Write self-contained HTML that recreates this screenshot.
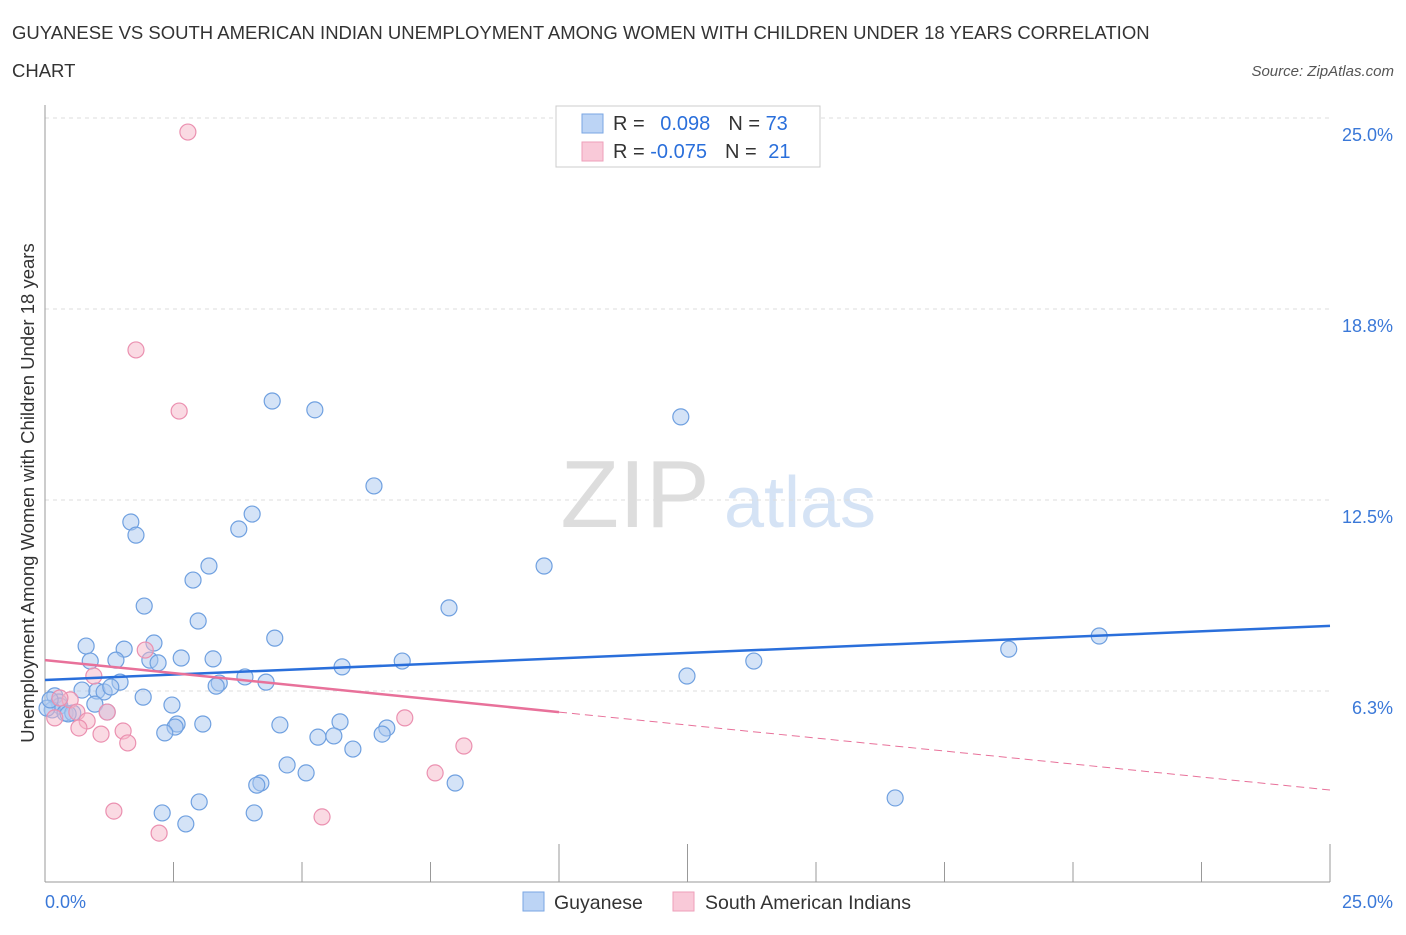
<!DOCTYPE html>
<html><head><meta charset="utf-8"><style>
body{margin:0;background:#fff;font-family:"Liberation Sans",sans-serif;}
svg text{font-family:"Liberation Sans",sans-serif;}
</style></head><body>
<svg id="chart" width="1406" height="930" xmlns="http://www.w3.org/2000/svg">
<text x="12" y="39" font-size="18.5" fill="#333">GUYANESE VS SOUTH AMERICAN INDIAN UNEMPLOYMENT AMONG WOMEN WITH CHILDREN UNDER 18 YEARS CORRELATION</text>
<text x="12" y="77" font-size="18.5" fill="#333">CHART</text>
<text x="1394" y="76" font-size="15" fill="#555" font-style="italic" text-anchor="end">Source: ZipAtlas.com</text>
<g>
<text x="635" y="527" font-size="96" fill="#ddd" font-family="Liberation Serif" text-anchor="middle">ZIP</text>
<text x="800" y="527" font-size="72" fill="#d5e3f5" text-anchor="middle">atlas</text>
</g>
<g id="grid"></g>
<g id="marks"></g>
<text transform="translate(34,493) rotate(-90)" font-size="18.5" fill="#333" text-anchor="middle">Unemployment Among Women with Children Under 18 years</text>
<text x="45" y="908" font-size="18" fill="#3a78d8">0.0%</text>
<text x="1393" y="908" font-size="18" fill="#3a78d8" text-anchor="end">25.0%</text>
<g>
<rect x="556" y="106" width="264" height="61" fill="#fff" stroke="#ccc"/>
<rect x="582" y="114" width="21" height="19" fill="#bcd4f5" stroke="#7aa6e3"/>
<rect x="582" y="142" width="21" height="19" fill="#f9c9d8" stroke="#ee9fba"/>
<text x="613" y="130" font-size="20" fill="#333">R = <tspan fill="#2a6fdb" dx="10">0.098</tspan><tspan fill="#333" dx="18">N = </tspan><tspan fill="#2a6fdb">73</tspan></text>
<text x="613" y="158" font-size="20" fill="#333">R = <tspan fill="#2a6fdb">-0.075</tspan><tspan fill="#333" dx="18">N = </tspan><tspan fill="#2a6fdb" dx="6">21</tspan></text>
</g>
<g>
<rect x="523" y="892" width="21" height="19" fill="#bcd4f5" stroke="#7aa6e3"/>
<text x="554" y="909" font-size="19.5" fill="#333">Guyanese</text>
<rect x="673" y="892" width="21" height="19" fill="#f9c9d8" stroke="#ee9fba"/>
<text x="705" y="909" font-size="19.5" fill="#333">South American Indians</text>
</g>
</svg>
<script>
const yTicks=[6.25,12.5,18.75,25];
const yTickLabels=["6.3%","12.5%","18.8%","25.0%"];
const xTicks=[0,2.5,5,7.5,10,12.5,15,17.5,20,22.5,25];
const guyX=[4.42,5.25,12.37,6.40,1.67,1.77,3.77,4.03,3.19,9.71,2.88,1.93,2.98,7.86,0.80,2.12,1.54,4.47,0.88,1.38,2.04,2.65,3.27,2.20,5.78,6.95,20.51,18.75,13.79,12.49,3.89,4.30,1.46,3.39,3.33,0.72,1.01,1.15,1.28,1.91,0.19,0.27,0.29,0.97,2.47,0.14,0.39,0.54,1.21,2.57,3.07,2.53,4.57,5.74,6.65,2.33,5.31,5.62,6.56,5.99,4.71,5.08,4.20,4.12,7.98,16.54,3.00,2.28,4.07,2.74,0.45,0.04,0.10];
const guyY=[15.74,15.45,15.22,12.96,11.78,11.35,11.55,12.04,10.34,10.34,9.88,9.03,8.54,8.97,7.72,7.82,7.62,7.98,7.23,7.26,7.26,7.33,7.30,7.17,7.04,7.23,8.05,7.62,7.23,6.74,6.71,6.54,6.54,6.51,6.41,6.28,6.25,6.22,6.38,6.05,6.09,5.89,5.76,5.82,5.79,5.63,5.53,5.53,5.56,5.17,5.17,5.07,5.14,5.24,5.04,4.88,4.74,4.78,4.84,4.35,3.83,3.57,3.24,3.17,3.24,2.75,2.62,2.26,2.26,1.90,5.50,5.69,5.96];
const saiX=[2.78,1.77,2.61,1.95,0.95,0.49,0.29,0.62,1.21,0.82,0.66,1.52,1.09,1.61,7.00,8.15,7.59,1.34,2.22,5.39,0.19];
const saiY=[24.54,17.41,15.41,7.59,6.74,5.96,6.02,5.56,5.56,5.27,5.04,4.94,4.84,4.55,5.37,4.45,3.57,2.32,1.60,2.13,5.37];
const guyTrend=[6.61,8.38];
const saiTrend=[7.26,3.01];
const saiSolidEnd=10;
const tallTicks=[10,12.5,25];
const X0=45,X1=1330,Y0=882,Y1=118;
const xs=v=>X0+(X1-X0)*v/25, ys=v=>Y0-(Y0-Y1)*v/25;
const NS="http://www.w3.org/2000/svg";
function mk(tag,attrs,parent){const e=document.createElementNS(NS,tag);for(const k in attrs)e.setAttribute(k,attrs[k]);parent.appendChild(e);return e;}
const grid=document.getElementById('grid'),marks=document.getElementById('marks');
yTicks.forEach((t,i)=>{
 const l=mk('line',{x1:X0,x2:X1,y1:ys(t),y2:ys(t),stroke:'#ddd','stroke-dasharray':'4,4'},grid);
 
 
 const tx=mk('text',{x:1393,y:ys(t)+23,'font-size':18,fill:'#3a78d8','text-anchor':'end'},grid);
 tx.textContent=yTickLabels[i];
 
 
});
const ax=mk('line',{x1:X0,x2:X1,y1:Y0,y2:Y0,stroke:'#999'},grid);


const ay=mk('line',{x1:X0,x2:X0,y1:105,y2:Y0,stroke:'#999'},grid);


xTicks.forEach(t=>{
 const l=mk('line',{x1:xs(t),x2:xs(t),y1:Y0,y2:Y0-(tallTicks.includes(t)?38:20),stroke:'#999'},grid);
 
 
});
function pts(X,Y,fill,stroke,name){X.forEach((v,i)=>{
 const c=mk('circle',{cx:xs(v),cy:ys(Y[i]),r:8,fill:fill,'fill-opacity':0.5,stroke:stroke,'stroke-width':1.2},marks);
 
 
});}
pts(guyX,guyY,'#a9c8f0','#6fa0e0','guyanese-point');
pts(saiX,saiY,'#f5b5c8','#eb90b0','south-american-indian-point');
const gl=mk('line',{x1:xs(0),y1:ys(guyTrend[0]),x2:xs(25),y2:ys(guyTrend[1]),stroke:'#2a6fdb','stroke-width':2.5},marks);


const ym=saiTrend[0]+(saiTrend[1]-saiTrend[0])*saiSolidEnd/25;
const pl=mk('line',{x1:xs(0),y1:ys(saiTrend[0]),x2:xs(saiSolidEnd),y2:ys(ym),stroke:'#e8719a','stroke-width':2.5},marks);


const pd=mk('line',{x1:xs(saiSolidEnd),y1:ys(ym),x2:xs(25),y2:ys(saiTrend[1]),stroke:'#e8719a','stroke-width':1,'stroke-dasharray':'8,5'},marks);


</script>
</body></html>
